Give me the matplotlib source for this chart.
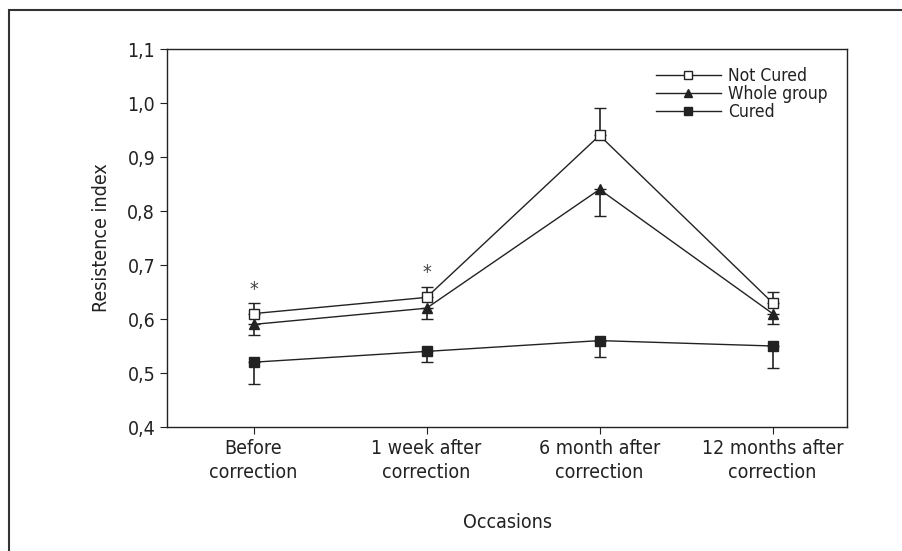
import numpy as np
import matplotlib.pyplot as plt
from matplotlib.patches import Rectangle
from matplotlib.lines import Line2D

# Datos
ocasiones = ["Before\ncorrection", "1 week after\ncorrection",
             "6 month after\ncorrection", "12 months after\ncorrection"]
no_curados = [0.61, 0.64, 0.94, 0.63]
no_curados_err = [0.02, 0.02, 0.05, 0.02]      # barra hacia arriba
grupo_total = [0.59, 0.62, 0.84, 0.61]
grupo_total_err = [0.02, 0.02, 0.05, 0.02]     # barra hacia abajo
curados = [0.52, 0.54, 0.56, 0.55]
curados_err = [0.04, 0.02, 0.03, 0.04]         # barra hacia abajo
asteriscos = [0, 1]  # ocasiones con diferencia significativa

plt.rcParams['font.family'] = ['DejaVu Sans']
plt.rcParams['font.stretch'] = 'condensed'

negro = '#222222'
fig = plt.figure(figsize=(9.02, 5.51), dpi=100)
ax = fig.add_axes([167 / 902, 1 - 427 / 551, 680 / 902, 378 / 551])

x = np.arange(len(ocasiones))
ceros = np.zeros(len(x))

ax.errorbar(x, no_curados, yerr=[ceros, no_curados_err], color=negro, lw=1,
            marker='s', markersize=7, markerfacecolor='white', markeredgecolor=negro,
            capsize=4, elinewidth=1.2, zorder=3)
ax.errorbar(x, grupo_total, yerr=[grupo_total_err, ceros], color=negro, lw=1,
            marker='^', markersize=7, markerfacecolor=negro,
            capsize=4, elinewidth=1.2, zorder=3)
ax.errorbar(x, curados, yerr=[curados_err, ceros], color=negro, lw=1,
            marker='s', markersize=7, markerfacecolor=negro,
            capsize=4, elinewidth=1.2, zorder=3)

for i in asteriscos:
    ax.annotate('*', (x[i], no_curados[i] + no_curados_err[i]), xytext=(0, 3),
                textcoords='offset points', ha='center', va='bottom',
                fontsize=14, color='#444444')

ax.set_xlim(-0.5, 3.43)
ax.set_ylim(0.4, 1.1)
ax.set_yticks(np.arange(0.4, 1.11, 0.1))
ax.set_yticklabels([f"{v:.1f}".replace('.', ',') for v in np.arange(0.4, 1.11, 0.1)])
ax.set_xticks(x)
ax.set_xticklabels(ocasiones, linespacing=1.35)
ax.tick_params(labelsize=14, length=5, color=negro, labelcolor=negro)
for s in ax.spines.values():
    s.set_color(negro)
    s.set_linewidth(1)

ax.set_ylabel('Resistence index', fontsize=14, color=negro, labelpad=12)
ax.set_xlabel('Occasions', fontsize=14, color=negro, labelpad=22)

manejadores = [
    Line2D([], [], color=negro, lw=1, marker='s', markersize=6,
           markerfacecolor='white', markeredgecolor=negro),
    Line2D([], [], color=negro, lw=1, marker='^', markersize=6, markerfacecolor=negro),
    Line2D([], [], color=negro, lw=1, marker='s', markersize=6, markerfacecolor=negro),
]
leg = ax.legend(manejadores, ['Not Cured', 'Whole group', 'Cured'], loc='upper right',
                bbox_to_anchor=(0.99, 0.985), frameon=False, fontsize=12.5,
                handlelength=3.8, borderaxespad=0.3, labelspacing=0.0,
                handletextpad=0.4)
for t in leg.get_texts():
    t.set_color(negro)

# marco exterior de la figura
fig.patches.append(Rectangle((9 / 902, -0.1), 1.2, 1 - 10 / 551 + 0.1,
                             transform=fig.transFigure, fill=False,
                             edgecolor='#333333', lw=1.5))

plt.savefig('out.png', dpi=100)
